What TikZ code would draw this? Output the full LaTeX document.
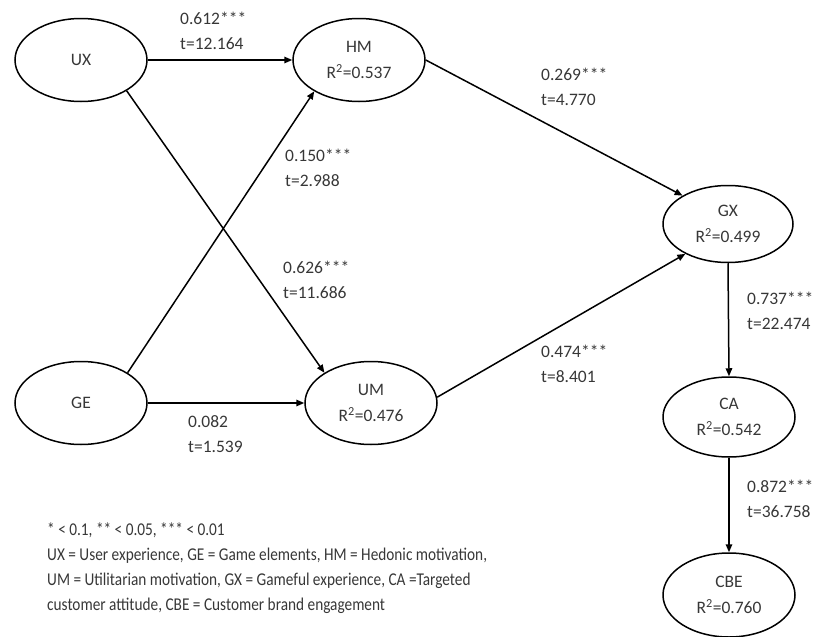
\documentclass[tikz,border=0pt]{standalone}
\usepackage{fontspec}
\setmainfont{Carlito}
\newfontfamily\legendfont[FakeStretch=0.85]{Carlito}
\usetikzlibrary{shapes.geometric,arrows.meta}
\definecolor{txt}{RGB}{55,55,55}
\tikzset{
  construct/.style={draw=black, line width=1.5pt, ellipse, minimum width=132pt, minimum height=83pt, inner sep=0pt, align=center, text=txt, font=\fontsize{17.5}{26}\selectfont},
  path/.style={draw=black, line width=1.5pt, -{Triangle[length=8pt,width=6.5pt]}},
  coef/.style={anchor=west, align=left, text=txt, inner sep=0pt, font=\fontsize{17.5}{25}\selectfont}
}
\begin{document}
\begin{tikzpicture}[x=1pt,y=-1pt]
\useasboundingbox (0,0) rectangle (815,637);
\node[construct] (UX) at (81,60) {UX};
\node[construct] (HM) at (359,60) {HM\\R\textsuperscript{2}=0.537};
\node[construct] (GE) at (81,403) {GE};
\node[construct] (UM) at (371,403) {UM\\R\textsuperscript{2}=0.476};
\node[construct, minimum width=130pt, minimum height=77pt] (GX) at (728,224) {GX\\R\textsuperscript{2}=0.499};
\node[construct, minimum height=80pt] (CA) at (729,417) {CA\\R\textsuperscript{2}=0.542};
\node[construct, minimum height=84pt] (CBE) at (729,595) {CBE\\R\textsuperscript{2}=0.760};

\draw[path] (UX.east) -- (HM.west);
\draw[path] (UX.-34) -- (UM.147);
\draw[path] (GE.33) -- (HM.-145);
\draw[path] (GE.east) -- (UM.west);
\draw[path] (HM.east) -- (GX.148);
\draw[path] (UM.5) -- (GX.-145);
\draw[path] (GX.south) -- (CA.north);
\draw[path] (CA.south) -- (CBE.north);

\node[coef] (l1) at (180,31) {0.612***\\t=12.164};
\node[coef] (l2) at (285,168) {0.150***\\t=2.988};
\node[coef] (l3) at (541,87) {0.269***\\t=4.770};
\node[coef] (l4) at (283,280) {0.626***\\t=11.686};
\node[coef] (l5) at (747,311) {0.737***\\t=22.474};
\node[coef] (l6) at (541,364) {0.474***\\t=8.401};
\node[coef] (l7) at (188,434) {0.082\\t=1.539};
\node[coef] (l8) at (747,499) {0.872***\\t=36.758};

\node[anchor=west, align=left, text=txt, inner sep=0pt, font=\legendfont\fontsize{18}{25}\selectfont] (legend) at (47,568)
 {* < 0.1, ** < 0.05, *** < 0.01\\
  UX = User experience, GE = Game elements, HM = Hedonic motivation,\\
  UM = Utilitarian motivation, GX = Gameful experience, CA =Targeted\\
  customer attitude, CBE = Customer brand engagement};
\end{tikzpicture}
\end{document}
